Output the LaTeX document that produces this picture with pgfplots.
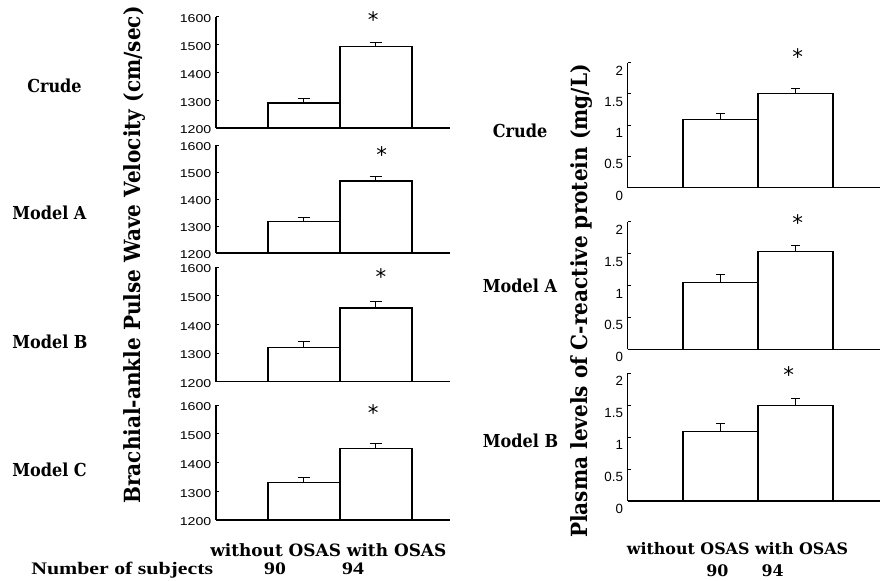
\documentclass[border=0pt]{standalone}
\usepackage{fontspec}
\usepackage{pgfplots}
\pgfplotsset{compat=1.18}
\setmainfont{DejaVu Serif}
\newfontfamily\labfam[FakeStretch=0.9]{DejaVu Serif}
\newfontfamily\tickfont{Liberation Sans}
\newfontfamily\tickfontw[FakeStretch=1.25]{Liberation Sans}
\newfontfamily\timesw[FakeStretch=1.24]{Liberation Serif}
\newfontfamily\astfont{DejaVu Sans}
\newcommand\labfont{\labfam\bfseries\fontsize{13.4}{16}\selectfont}
\newcommand\titfont{\labfam\bfseries\fontsize{16.7}{18}\selectfont}
\newcommand\signif{\node[font=\astfont\fontsize{16}{16}\selectfont, inner sep=0pt, yshift=-3.4pt]}

\pgfplotsset{
 base/.style={scale only axis, axis lines=left, axis line style={-, line width=0.8pt, black},
   xtick=\empty, tick align=inside, major tick length=2.5pt,
   tick style={line width=0.6pt, black}, clip mode=individual, anchor=south west},
 leftax/.style={base, width=175.5pt, xmin=-0.222, xmax=3.028, ymin=1200, ymax=1600,
   ytick={1200,1300,1400,1500,1600}, yticklabels={1200,1300,1400,1500,1600},
   yticklabel style={font=\tickfontw\fontsize{8.5}{9}\selectfont, yshift=-1.5pt}},
 rightax/.style={base, width=189.2pt, xmin=-0.237, xmax=3.127, ymin=0, ymax=2,
   ytick={0,0.5,1,1.5,2}, yticklabels={0,0.5,1,1.5,2},
   yticklabel style={font=\tickfont\fontsize{10}{10}\selectfont, yshift=-6pt}},
 bars/.style={ybar, bar width=1, fill=white, draw=black, line width=0.9pt,
   error bars/.cd, y dir=plus, y explicit, error mark=|,
   error bar style={line width=0.75pt, black},
   error mark options={line width=0.75pt, black, mark size=#1}},
}

\begin{document}
\begin{tikzpicture}
\path[use as bounding box] (0,0) rectangle (660.75pt,435.75pt);

% ---------- left column: baPWV ----------
\begin{axis}[leftax, at={(162pt,339.75pt)}, height=83.6pt]
\addplot[bars=4.5pt] coordinates {(1,1290) +- (0,17) (2,1492) +- (0,16)};
\signif at (axis cs:1.96,1605) {*};
\end{axis}
\begin{axis}[leftax, at={(162pt,246pt)}, height=81pt]
\addplot[bars=4.5pt] coordinates {(1,1316) +- (0,16) (2,1467) +- (0,17)};
\signif at (axis cs:2.08,1581) {*};
\end{axis}
\begin{axis}[leftax, at={(162pt,149.5pt)}, height=86pt]
\addplot[bars=4.5pt] coordinates {(1,1320) +- (0,20) (2,1457) +- (0,21)};
\signif at (axis cs:2.07,1583) {*};
\end{axis}
\begin{axis}[leftax, at={(162pt,45.75pt)}, height=86.25pt]
\addplot[bars=4.5pt] coordinates {(1,1330) +- (0,17) (2,1449) +- (0,18)};
\signif at (axis cs:1.96,1590) {*};
\end{axis}

% ---------- right column: CRP ----------
\begin{axis}[rightax, at={(470.8pt,295.1pt)}, height=93.75pt]
\addplot[bars=3.2pt] coordinates {(1,1.09) +- (0,0.10) (2,1.50) +- (0,0.09)};
\signif at (axis cs:2.03,2.17) {*};
\end{axis}
\begin{axis}[rightax, at={(470.8pt,173.8pt)}, height=95.7pt]
\addplot[bars=3.2pt] coordinates {(1,1.05) +- (0,0.12) (2,1.53) +- (0,0.10)};
\signif at (axis cs:2.03,2.06) {*};
\end{axis}
\begin{axis}[rightax, at={(470.8pt,60pt)}, height=95.8pt]
\addplot[bars=3.2pt] coordinates {(1,1.09) +- (0,0.12) (2,1.49) +- (0,0.11)};
\signif at (axis cs:1.91,2.05) {*};
\end{axis}

% ---------- labels ----------
\node[anchor=base west, font=\labfont, inner sep=0pt] at (20.25pt,366.2pt) {Crude};
\node[anchor=base west, font=\labfont, inner sep=0pt] at (9pt,271.1pt) {Model A};
\node[anchor=base west, font=\labfont, inner sep=0pt] at (9pt,174.4pt) {Model B};
\node[anchor=base west, font=\labfont, inner sep=0pt] at (9pt,78.4pt) {Model C};
\node[anchor=base west, font=\labfont, inner sep=0pt] at (369.5pt,332.8pt) {Crude};
\node[anchor=base west, font=\labfont, inner sep=0pt] at (362pt,216.2pt) {Model A};
\node[anchor=base west, font=\labfont, inner sep=0pt] at (362pt,100.3pt) {Model B};

\node[rotate=90, font=\titfont, inner sep=0pt] at (101.25pt,244.5pt) {Brachial-ankle Pulse Wave Velocity (cm/sec)};
\node[rotate=90, font=\titfont, inner sep=0pt] at (436.5pt,210pt) {Plasma levels of C-reactive protein (mg/L)};

\node[anchor=base west, font=\fontsize{12.7}{14}\selectfont\bfseries, inner sep=0pt] at (157.5pt,18.2pt) {without OSAS with OSAS};
\node[anchor=base west, font=\timesw\fontsize{13.2}{14}\selectfont\bfseries, inner sep=0pt] at (23.25pt,4.5pt) {Number of subjects};
\node[anchor=base, font=\timesw\fontsize{13.2}{14}\selectfont\bfseries, inner sep=0pt] at (206.25pt,4.5pt) {90};
\node[anchor=base, font=\timesw\fontsize{13.2}{14}\selectfont\bfseries, inner sep=0pt] at (264.75pt,4.5pt) {94};
\node[anchor=base west, font=\fontsize{11.9}{14}\selectfont\bfseries, inner sep=0pt] at (470pt,19.5pt) {without OSAS with OSAS};
\node[anchor=base, font=\fontsize{11.9}{14}\selectfont\bfseries, inner sep=0pt] at (538.1pt,3pt) {90};
\node[anchor=base, font=\fontsize{11.9}{14}\selectfont\bfseries, inner sep=0pt] at (579.4pt,3pt) {94};
\end{tikzpicture}
\end{document}
